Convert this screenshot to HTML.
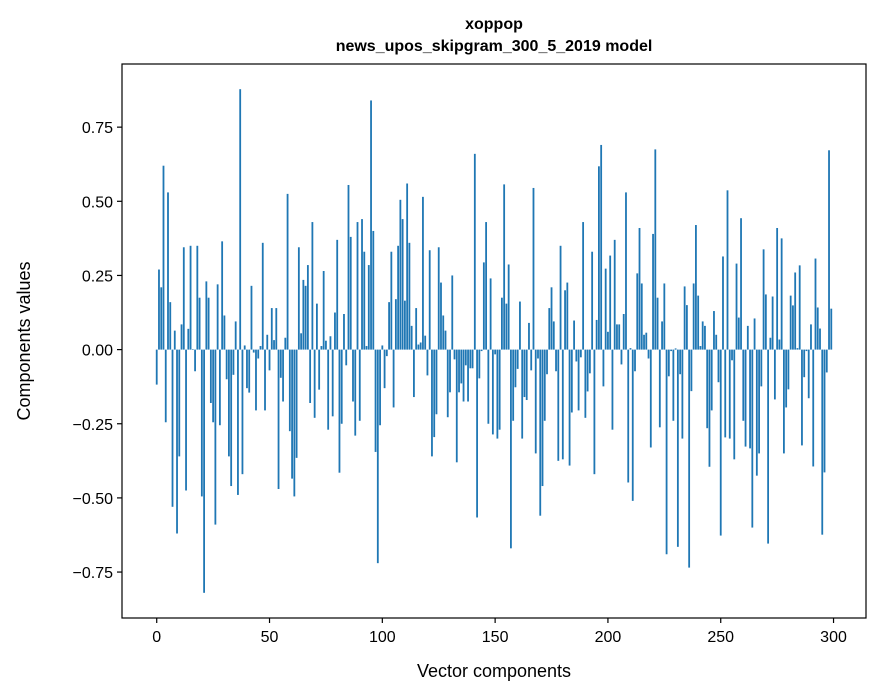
<!DOCTYPE html>
<html><head><meta charset="utf-8"><style>
html,body{margin:0;padding:0;background:#fff;}
svg{display:block;font-family:"Liberation Sans","DejaVu Sans",sans-serif;}
</style></head><body>
<svg id="chart" width="880" height="696" viewBox="0 0 880 696" xmlns="http://www.w3.org/2000/svg">
<rect x="0" y="0" width="880" height="696" fill="#fff"/>
<text x="494" y="29" text-anchor="middle" font-size="16" font-weight="bold">xoppop</text>
<text x="494" y="51" text-anchor="middle" font-size="16" font-weight="bold">news_upos_skipgram_300_5_2019 model</text>
<g id="bars"></g>
<g id="yticks"></g>
<g id="xticks"></g>
<rect x="122" y="64" width="744" height="554" fill="none" stroke="#000" stroke-width="1.2"/>
<text x="494" y="677" text-anchor="middle" font-size="18">Vector components</text>
<text transform="translate(30,341) rotate(-90)" text-anchor="middle" font-size="18">Components values</text>
</svg>
<script>
const values = [-0.118,0.27,0.21,0.62,-0.245,0.53,0.16,-0.53,0.064,-0.62,-0.36,0.085,0.345,-0.475,0.07,0.35,0.002,-0.073,0.35,0.175,-0.495,-0.82,0.23,0.175,-0.18,-0.245,-0.59,0.22,-0.255,0.365,0.115,-0.10,-0.36,-0.46,-0.085,0.095,-0.49,0.878,-0.42,0.014,-0.13,-0.145,0.215,-0.01,-0.205,-0.03,0.012,0.36,-0.205,0.05,-0.07,
0.14,0.032,0.14,-0.47,-0.095,-0.175,0.04,0.525,-0.275,-0.435,-0.495,-0.365,0.345,0.055,0.235,0.215,0.285,-0.18,0.43,-0.23,0.155,-0.135,0.012,0.265,0.03,-0.27,0.045,-0.225,0.125,0.37,-0.415,-0.25,0.12,-0.053,0.555,0.38,-0.175,-0.29,0.43,-0.24,0.44,0.33,0.012,0.285,0.84,0.40,-0.345,-0.72,-0.255,0.014,-0.13,
-0.022,0.16,0.33,-0.195,0.17,0.35,0.505,0.44,0.165,0.56,0.36,0.08,-0.16,0.14,0.017,0.024,0.515,0.047,-0.087,0.335,-0.36,-0.295,-0.218,0.345,0.226,0.115,0.064,-0.228,-0.144,0.25,-0.033,-0.38,-0.144,-0.114,-0.175,-0.053,-0.175,-0.063,-0.063,0.66,-0.566,-0.097,-0.005,0.294,0.43,-0.25,0.24,-0.286,-0.016,-0.30,-0.27,
0.175,0.557,0.155,0.287,-0.67,-0.24,-0.127,-0.065,0.162,-0.30,-0.16,-0.17,0.09,-0.07,0.545,-0.35,-0.03,-0.56,-0.46,-0.24,-0.083,0.14,0.21,0.095,-0.073,-0.375,0.35,-0.37,0.2,0.226,-0.391,-0.212,0.098,-0.04,-0.205,-0.026,0.43,-0.23,-0.141,-0.08,0.33,-0.42,0.10,0.618,0.69,-0.124,0.273,0.06,0.317,-0.27,0.37,
0.085,0.085,-0.05,0.12,0.53,-0.448,0.005,-0.51,-0.073,0.257,0.41,0.223,0.05,0.057,-0.03,-0.33,0.39,0.675,0.175,-0.262,0.095,0.223,-0.69,-0.09,-0.005,-0.24,0.004,-0.665,-0.083,-0.30,0.213,0.15,-0.735,-0.14,0.223,0.42,0.182,0.012,0.095,0.08,-0.265,-0.395,-0.205,0.13,0.05,-0.11,-0.627,0.314,-0.296,0.537,-0.30,
-0.036,-0.37,0.29,0.108,0.443,-0.24,-0.327,0.08,-0.333,-0.60,0.105,-0.425,-0.35,-0.124,0.338,0.186,-0.654,0.04,0.179,-0.168,0.41,0.034,0.375,-0.35,-0.195,-0.134,0.182,0.149,0.26,0.005,0.284,-0.323,-0.093,-0.005,-0.164,0.085,-0.394,0.307,0.142,0.071,-0.624,-0.414,-0.077,0.672,0.138];
const yTickValues = [-0.75,-0.5,-0.25,0,0.25,0.5,0.75];
const yTickLabels = ["\u22120.75","\u22120.50","\u22120.25","0.00","0.25","0.50","0.75"];
const xTickValues = [0,50,100,150,200,250,300];
const xTickLabels = ["0","50","100","150","200","250","300"];

const NS="http://www.w3.org/2000/svg";
const L=122,R=866,T=64,B=618;
const n=values.length;
const xmin=-0.4-0.05*(n-0.2), xmax=n-0.6+0.05*(n-0.2);
let vmin=Math.min(0,...values), vmax=Math.max(0,...values);
const pad=0.05*(vmax-vmin);
const ymin=vmin-pad, ymax=vmax+pad;
function xs(v){return L+(v-xmin)/(xmax-xmin)*(R-L);}
function ys(v){return B-(v-ymin)/(ymax-ymin)*(B-T);}
const gb=document.getElementById('bars');
values.forEach((v,i)=>{
  const r=document.createElementNS(NS,'rect');
  const x0=xs(i-0.4),x1=xs(i+0.4);
  const y0=ys(Math.max(v,0)),y1=ys(Math.min(v,0));
  r.setAttribute('x',x0);r.setAttribute('width',x1-x0);
  r.setAttribute('y',y0);r.setAttribute('height',Math.max(y1-y0,0.01));
  r.setAttribute('fill','#1f77b4');
  
  
  gb.appendChild(r);
});
const gy=document.getElementById('yticks');
yTickValues.forEach((v,i)=>{
  const y=ys(v);
  const l=document.createElementNS(NS,'line');
  l.setAttribute('x1',L-5);l.setAttribute('x2',L);l.setAttribute('y1',y);l.setAttribute('y2',y);
  l.setAttribute('stroke','#000');l.setAttribute('stroke-width','1.2');
  
  
  gy.appendChild(l);
  const t=document.createElementNS(NS,'text');
  t.setAttribute('x',L-9);t.setAttribute('y',y+6);t.setAttribute('text-anchor','end');t.setAttribute('font-size','16');
  t.textContent=yTickLabels[i];
  
  
  gy.appendChild(t);
});
const gx=document.getElementById('xticks');
xTickValues.forEach((v,i)=>{
  const x=xs(v);
  const l=document.createElementNS(NS,'line');
  l.setAttribute('x1',x);l.setAttribute('x2',x);l.setAttribute('y1',B);l.setAttribute('y2',B+5);
  l.setAttribute('stroke','#000');l.setAttribute('stroke-width','1.2');
  
  
  gx.appendChild(l);
  const t=document.createElementNS(NS,'text');
  t.setAttribute('x',x);t.setAttribute('y',B+24);t.setAttribute('text-anchor','middle');t.setAttribute('font-size','16');
  t.textContent=xTickLabels[i];
  
  
  gx.appendChild(t);
});
</script>
</body></html>
